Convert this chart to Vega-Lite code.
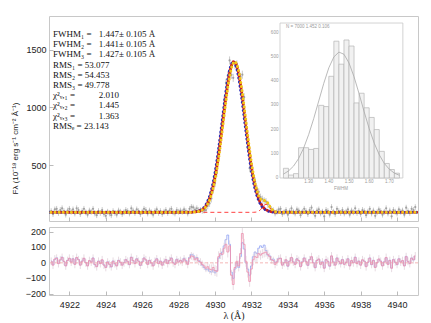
{
"$schema": "https://vega.github.io/schema/vega-lite/v6.json",
"background": "white",
"padding": {"left": 11, "top": 15, "right": 14, "bottom": 4},
"spacing": 4,
"config": {
  "view": {"stroke": "#c8c8c8", "strokeWidth": 1},
  "axis": {"domain": false, "grid": false, "labelFont": "Liberation Sans", "labelFontSize": 9, "labelColor": "#222", "tickColor": "#aaa", "tickWidth": 0.8, "titleFont": "Liberation Sans", "titleFontWeight": "normal", "titleColor": "#222"}
},
"datasets": {
"spec": [
{"w":4921.0,"f":105,"e":25,"a":10,"b":12},{"w":4921.1,"f":80,"e":25,"a":-15,"b":-12},{"w":4921.2,"f":120,"e":25,"a":25,"b":22},{"w":4921.3,"f":125,"e":25,"a":30,"b":33},{"w":4921.4,"f":90,"e":25,"a":-5,"b":-3},{"w":4921.5,"f":115,"e":25,"a":20,"b":18},{"w":4921.6,"f":130,"e":25,"a":35,"b":37},{"w":4921.7,"f":105,"e":25,"a":10,"b":8},{"w":4921.8,"f":75,"e":25,"a":-20,"b":-18},{"w":4921.9,"f":110,"e":25,"a":15,"b":17},
{"w":4922.0,"f":125,"e":25,"a":30,"b":28},{"w":4922.1,"f":100,"e":25,"a":5,"b":7},{"w":4922.2,"f":120,"e":25,"a":25,"b":27},{"w":4922.3,"f":85,"e":25,"a":-10,"b":-8},{"w":4922.4,"f":130,"e":25,"a":35,"b":33},{"w":4922.5,"f":115,"e":25,"a":20,"b":22},{"w":4922.6,"f":80,"e":25,"a":-15,"b":-13},{"w":4922.7,"f":105,"e":25,"a":10,"b":12},{"w":4922.8,"f":125,"e":25,"a":30,"b":28},{"w":4922.9,"f":95,"e":25,"a":0,"b":2},
{"w":4923.0,"f":75,"e":25,"a":-20,"b":-18},{"w":4923.1,"f":110,"e":25,"a":15,"b":13},{"w":4923.2,"f":100,"e":25,"a":5,"b":7},{"w":4923.3,"f":125,"e":25,"a":30,"b":32},{"w":4923.4,"f":85,"e":25,"a":-10,"b":-12},{"w":4923.5,"f":70,"e":25,"a":-25,"b":-23},{"w":4923.6,"f":105,"e":25,"a":10,"b":12},{"w":4923.7,"f":90,"e":25,"a":-5,"b":-3},{"w":4923.8,"f":115,"e":25,"a":20,"b":18},{"w":4923.9,"f":80,"e":25,"a":-15,"b":-13},
{"w":4924.0,"f":65,"e":25,"a":-30,"b":-28},{"w":4924.1,"f":100,"e":25,"a":5,"b":7},{"w":4924.2,"f":85,"e":25,"a":-10,"b":-8},{"w":4924.3,"f":70,"e":25,"a":-25,"b":-27},{"w":4924.4,"f":105,"e":25,"a":10,"b":12},{"w":4924.5,"f":90,"e":25,"a":-5,"b":-7},{"w":4924.6,"f":75,"e":25,"a":-20,"b":-18},{"w":4924.7,"f":110,"e":25,"a":15,"b":17},{"w":4924.8,"f":100,"e":25,"a":5,"b":3},{"w":4924.9,"f":80,"e":25,"a":-15,"b":-13},
{"w":4925.0,"f":95,"e":25,"a":0,"b":2},{"w":4925.1,"f":115,"e":25,"a":20,"b":22},{"w":4925.2,"f":105,"e":25,"a":10,"b":8},{"w":4925.3,"f":85,"e":25,"a":-10,"b":-12},{"w":4925.4,"f":130,"e":25,"a":35,"b":37},{"w":4925.5,"f":110,"e":25,"a":15,"b":13},{"w":4925.6,"f":90,"e":25,"a":-5,"b":-3},{"w":4925.7,"f":120,"e":25,"a":25,"b":27},{"w":4925.8,"f":105,"e":25,"a":10,"b":12},{"w":4925.9,"f":80,"e":25,"a":-15,"b":-17},
{"w":4926.0,"f":100,"e":25,"a":5,"b":7},{"w":4926.1,"f":125,"e":25,"a":30,"b":32},{"w":4926.2,"f":115,"e":25,"a":20,"b":18},{"w":4926.3,"f":85,"e":25,"a":-10,"b":-8},{"w":4926.4,"f":110,"e":25,"a":15,"b":17},{"w":4926.5,"f":95,"e":25,"a":0,"b":-2},{"w":4926.6,"f":75,"e":25,"a":-20,"b":-18},{"w":4926.7,"f":105,"e":25,"a":10,"b":12},{"w":4926.8,"f":120,"e":25,"a":25,"b":27},{"w":4926.9,"f":90,"e":25,"a":-5,"b":-3},
{"w":4927.0,"f":105,"e":25,"a":10,"b":12},{"w":4927.1,"f":80,"e":25,"a":-15,"b":-13},{"w":4927.2,"f":100,"e":25,"a":5,"b":7},{"w":4927.3,"f":115,"e":25,"a":20,"b":22},{"w":4927.4,"f":90,"e":25,"a":-5,"b":-3},{"w":4927.5,"f":110,"e":25,"a":15,"b":17},{"w":4927.6,"f":125,"e":25,"a":30,"b":32},{"w":4927.7,"f":95,"e":25,"a":0,"b":3},{"w":4927.8,"f":85,"e":25,"a":-10,"b":-7},{"w":4927.9,"f":115,"e":25,"a":20,"b":24},
{"w":4928.0,"f":100,"e":25,"a":5,"b":7},{"w":4928.1,"f":110,"e":25,"a":15,"b":17},{"w":4928.2,"f":100,"e":25,"a":5,"b":10},{"w":4928.3,"f":120,"e":25,"a":25,"b":30},{"w":4928.4,"f":105,"e":25,"a":10,"b":15},{"w":4928.5,"f":85,"e":25,"a":-10,"b":-5},{"w":4928.6,"f":125,"e":25,"a":30,"b":35},{"w":4928.7,"f":141,"e":25,"a":45,"b":55},{"w":4928.8,"f":137,"e":25,"a":40,"b":50},{"w":4928.9,"f":118,"e":25,"a":20,"b":30},
{"w":4929.0,"f":130,"e":25,"a":30,"b":35},{"w":4929.1,"f":114,"e":25,"a":10,"b":15},{"w":4929.2,"f":114,"e":25,"a":5,"b":5},{"w":4929.3,"f":108,"e":25,"a":-10,"b":-15},{"w":4929.4,"f":110,"e":25,"a":-20,"b":-30},{"w":4929.5,"f":114,"e":25,"a":-35,"b":-45},{"w":4929.6,"f":151,"e":30,"a":-25,"b":-40},{"w":4929.7,"f":172,"e":30,"a":-40,"b":-55},{"w":4929.8,"f":215,"e":35,"a":-45,"b":-60},{"w":4929.9,"f":292,"e":35,"a":-30,"b":-45},
{"w":4930.0,"f":348,"e":35,"a":-50,"b":-65},{"w":4930.1,"f":435,"e":35,"a":-55,"b":-50},{"w":4930.2,"f":636,"e":35,"a":40,"b":30},{"w":4930.3,"f":775,"e":35,"a":60,"b":50},{"w":4930.4,"f":896,"e":35,"a":55,"b":70},{"w":4930.5,"f":1064,"e":35,"a":95,"b":110},{"w":4930.6,"f":1213,"e":35,"a":120,"b":150},{"w":4930.7,"f":1275,"e":35,"a":70,"b":180},{"w":4930.8,"f":1406,"e":35,"a":110,"b":120},{"w":4930.9,"f":1282,"e":35,"a":-80,"b":-60},
{"w":4931.0,"f":1256,"e":35,"a":-140,"b":-100},{"w":4931.1,"f":1366,"e":35,"a":-30,"b":-40},{"w":4931.2,"f":1372,"e":35,"a":10,"b":0},{"w":4931.3,"f":1276,"e":35,"a":-20,"b":-30},{"w":4931.4,"f":1265,"e":35,"a":60,"b":40},{"w":4931.5,"f":1283,"e":35,"a":190,"b":130},{"w":4931.6,"f":1089,"e":35,"a":120,"b":90},{"w":4931.7,"f":851,"e":35,"a":10,"b":0},{"w":4931.8,"f":655,"e":35,"a":-60,"b":-40},{"w":4931.9,"f":476,"e":35,"a":-120,"b":-80},
{"w":4932.0,"f":450,"e":35,"a":-40,"b":-20},{"w":4932.1,"f":418,"e":35,"a":20,"b":40},{"w":4932.2,"f":362,"e":35,"a":40,"b":70},{"w":4932.3,"f":295,"e":35,"a":35,"b":60},{"w":4932.4,"f":272,"e":30,"a":60,"b":95},{"w":4932.5,"f":226,"e":30,"a":50,"b":110},{"w":4932.6,"f":209,"e":30,"a":60,"b":100},{"w":4932.7,"f":195,"e":30,"a":65,"b":115},{"w":4932.8,"f":188,"e":30,"a":70,"b":80},{"w":4932.9,"f":164,"e":30,"a":55,"b":50},
{"w":4933.0,"f":144,"e":25,"a":40,"b":45},{"w":4933.1,"f":121,"e":25,"a":20,"b":20},{"w":4933.2,"f":113,"e":25,"a":15,"b":25},{"w":4933.3,"f":85,"e":25,"a":-10,"b":0},{"w":4933.4,"f":100,"e":25,"a":5,"b":10},{"w":4933.5,"f":120,"e":25,"a":25,"b":30},{"w":4933.6,"f":125,"e":25,"a":30,"b":28},{"w":4933.7,"f":80,"e":25,"a":-15,"b":-13},{"w":4933.8,"f":95,"e":25,"a":0,"b":2},{"w":4933.9,"f":115,"e":25,"a":20,"b":18},
{"w":4934.0,"f":75,"e":25,"a":-20,"b":-22},{"w":4934.1,"f":105,"e":25,"a":10,"b":12},{"w":4934.2,"f":130,"e":25,"a":35,"b":33},{"w":4934.3,"f":100,"e":25,"a":5,"b":7},{"w":4934.4,"f":85,"e":25,"a":-10,"b":-8},{"w":4934.5,"f":120,"e":25,"a":25,"b":27},{"w":4934.6,"f":110,"e":25,"a":15,"b":13},{"w":4934.7,"f":70,"e":25,"a":-25,"b":-23},{"w":4934.8,"f":100,"e":25,"a":5,"b":7},{"w":4934.9,"f":125,"e":25,"a":30,"b":32},
{"w":4935.0,"f":105,"e":25,"a":10,"b":8},{"w":4935.1,"f":80,"e":25,"a":-15,"b":-17},{"w":4935.2,"f":115,"e":25,"a":20,"b":22},{"w":4935.3,"f":135,"e":25,"a":40,"b":38},{"w":4935.4,"f":95,"e":25,"a":0,"b":2},{"w":4935.5,"f":65,"e":25,"a":-30,"b":-32},{"w":4935.6,"f":110,"e":25,"a":15,"b":17},{"w":4935.7,"f":120,"e":25,"a":25,"b":23},{"w":4935.8,"f":85,"e":25,"a":-10,"b":-8},{"w":4935.9,"f":100,"e":25,"a":5,"b":7},
{"w":4936.0,"f":60,"e":25,"a":-35,"b":-33},{"w":4936.1,"f":115,"e":25,"a":20,"b":22},{"w":4936.2,"f":105,"e":25,"a":10,"b":8},{"w":4936.3,"f":75,"e":25,"a":-20,"b":-22},{"w":4936.4,"f":140,"e":25,"a":45,"b":43},{"w":4936.5,"f":100,"e":25,"a":5,"b":7},{"w":4936.6,"f":80,"e":25,"a":-15,"b":-13},{"w":4936.7,"f":125,"e":25,"a":30,"b":32},{"w":4936.8,"f":105,"e":25,"a":10,"b":8},{"w":4936.9,"f":90,"e":25,"a":-5,"b":-7},
{"w":4937.0,"f":115,"e":25,"a":20,"b":22},{"w":4937.1,"f":85,"e":25,"a":-10,"b":-8},{"w":4937.2,"f":100,"e":25,"a":5,"b":3},{"w":4937.3,"f":120,"e":25,"a":25,"b":27},{"w":4937.4,"f":75,"e":25,"a":-20,"b":-18},{"w":4937.5,"f":110,"e":25,"a":15,"b":13},{"w":4937.6,"f":95,"e":25,"a":0,"b":2},{"w":4937.7,"f":130,"e":25,"a":35,"b":37},{"w":4937.8,"f":90,"e":25,"a":-5,"b":-3},{"w":4937.9,"f":105,"e":25,"a":10,"b":12},
{"w":4938.0,"f":80,"e":25,"a":-15,"b":-13},{"w":4938.1,"f":115,"e":25,"a":20,"b":18},{"w":4938.2,"f":105,"e":25,"a":10,"b":12},{"w":4938.3,"f":70,"e":25,"a":-25,"b":-23},{"w":4938.4,"f":100,"e":25,"a":5,"b":3},{"w":4938.5,"f":125,"e":25,"a":30,"b":32},{"w":4938.6,"f":85,"e":25,"a":-10,"b":-12},{"w":4938.7,"f":110,"e":25,"a":15,"b":17},{"w":4938.8,"f":65,"e":25,"a":-30,"b":-28},{"w":4938.9,"f":95,"e":25,"a":0,"b":2},
{"w":4939.0,"f":120,"e":25,"a":25,"b":23},{"w":4939.1,"f":105,"e":25,"a":10,"b":12},{"w":4939.2,"f":75,"e":25,"a":-20,"b":-18},{"w":4939.3,"f":100,"e":25,"a":5,"b":7},{"w":4939.4,"f":130,"e":25,"a":35,"b":33},{"w":4939.5,"f":85,"e":25,"a":-10,"b":-8},{"w":4939.6,"f":110,"e":25,"a":15,"b":17},{"w":4939.7,"f":60,"e":25,"a":-35,"b":-33},{"w":4939.8,"f":115,"e":25,"a":20,"b":22},{"w":4939.9,"f":100,"e":25,"a":5,"b":3},
{"w":4940.0,"f":85,"e":25,"a":-10,"b":-12},{"w":4940.1,"f":120,"e":25,"a":25,"b":27},{"w":4940.2,"f":100,"e":25,"a":5,"b":7},{"w":4940.3,"f":110,"e":25,"a":15,"b":13},{"w":4940.4,"f":75,"e":25,"a":-20,"b":-18},{"w":4940.5,"f":135,"e":25,"a":40,"b":42},{"w":4940.6,"f":105,"e":25,"a":10,"b":8},{"w":4940.7,"f":90,"e":25,"a":-5,"b":-3},{"w":4940.8,"f":125,"e":25,"a":30,"b":32},{"w":4940.9,"f":115,"e":25,"a":20,"b":18},
{"w":4941.0,"f":140,"e":25,"a":45,"b":43}
],
"model": [
{"w":4920.9,"m1":95,"m2":95,"m3":95},{"w":4928.2,"m1":95,"m2":95,"m3":95},{"w":4928.7,"m1":96,"m2":96.4,"m3":96},{"w":4928.9,"m1":98,"m2":99,"m3":97.5},{"w":4929.1,"m1":103.5,"m2":105.7,"m3":102},
{"w":4929.2,"m1":109,"m2":112.6,"m3":107.4},{"w":4929.3,"m1":118,"m2":122.8,"m3":115.3},{"w":4929.4,"m1":130,"m2":137.6,"m3":126.4},{"w":4929.5,"m1":149,"m2":159.8,"m3":143.3},{"w":4929.6,"m1":176,"m2":190.4,"m3":167.9},
{"w":4929.7,"m1":212,"m2":231.2,"m3":201.2},{"w":4929.8,"m1":260,"m2":284.8,"m3":245.6},{"w":4929.9,"m1":322,"m2":352.4,"m3":303.4},{"w":4930.0,"m1":398,"m2":434.8,"m3":375.2},{"w":4930.1,"m1":490,"m2":532.4,"m3":462.4},
{"w":4930.2,"m1":596,"m2":643.6,"m3":564.2},{"w":4930.3,"m1":715,"m2":765.4,"m3":679.3},{"w":4930.4,"m1":841,"m2":892.2,"m3":803.2},{"w":4930.5,"m1":969,"m2":1018.6,"m3":930.6},{"w":4930.6,"m1":1093,"m2":1137.8,"m3":1055.8},
{"w":4930.7,"m1":1205,"m2":1241.4,"m3":1171.4},{"w":4930.8,"m1":1296,"m2":1322.4,"m3":1268.7},{"w":4930.9,"m1":1362,"m2":1375.6,"m3":1342.2},{"w":4931.0,"m1":1396,"m2":1399,"m3":1385.8},{"w":4931.1,"m1":1396,"m2":1382.4,"m3":1397},
{"w":4931.2,"m1":1362,"m2":1335.6,"m3":1372.2},{"w":4931.3,"m1":1296,"m2":1259.6,"m3":1315.8},{"w":4931.4,"m1":1205,"m2":1160.2,"m3":1232.3},{"w":4931.5,"m1":1093,"m2":1043.4,"m3":1126.6},{"w":4931.6,"m1":969,"m2":917.8,"m3":1006.2},
{"w":4931.7,"m1":841,"m2":790.6,"m3":879.4},{"w":4931.8,"m1":715,"m2":667.4,"m3":752.8},{"w":4931.9,"m1":596,"m2":553.6,"m3":631.7},{"w":4932.0,"m1":490,"m2":453.2,"m3":521.8},{"w":4932.1,"m1":398,"m2":367.6,"m3":425.6},
{"w":4932.2,"m1":322,"m2":297.2,"m3":346},{"w":4932.3,"m1":260,"m2":240.8,"m3":282},{"w":4932.4,"m1":212,"m2":197.6,"m3":236},{"w":4932.5,"m1":176,"m2":165.2,"m3":210},{"w":4932.6,"m1":149,"m2":141.4,"m3":199},
{"w":4932.7,"m1":130,"m2":125.2,"m3":198},{"w":4932.8,"m1":118,"m2":114.4,"m3":192},{"w":4932.9,"m1":109,"m2":106.8,"m3":174},{"w":4933.0,"m1":103.5,"m2":101.6,"m3":147},{"w":4933.1,"m1":100,"m2":99,"m3":124},
{"w":4933.2,"m1":98,"m2":97.2,"m3":108.5},{"w":4933.3,"m1":97,"m2":96.5,"m3":100.5},{"w":4933.4,"m1":96,"m2":95.6,"m3":96.3},{"w":4933.9,"m1":95,"m2":95,"m3":95},{"w":4941.2,"m1":95,"m2":95,"m3":95}
],
"comp": [
{"w":4920.9,"c":95},{"w":4932.1,"c":95},{"w":4932.2,"c":96},{"w":4932.3,"c":98},{"w":4932.4,"c":104.5},{"w":4932.5,"c":118},{"w":4932.6,"c":137},{"w":4932.7,"c":157},{"w":4932.8,"c":165},{"w":4932.9,"c":157},{"w":4933.0,"c":137},{"w":4933.1,"c":118},{"w":4933.2,"c":104.5},{"w":4933.3,"c":98},{"w":4933.4,"c":96},{"w":4933.5,"c":95},{"w":4941.2,"c":95}
],
"zero": [{"z": 0}],
"rticks": [{"v": -200}, {"v": -100}, {"v": 0}, {"v": 100}, {"v": 200}],
"hist": [
{"b0":1.175,"b1":1.2,"n":40},{"b0":1.2,"b1":1.225,"n":12},{"b0":1.225,"b1":1.25,"n":18},{"b0":1.25,"b1":1.275,"n":125},{"b0":1.275,"b1":1.3,"n":125},{"b0":1.3,"b1":1.325,"n":118},{"b0":1.325,"b1":1.35,"n":122},{"b0":1.35,"b1":1.375,"n":300},{"b0":1.375,"b1":1.4,"n":295},{"b0":1.4,"b1":1.425,"n":420},{"b0":1.425,"b1":1.45,"n":565},{"b0":1.45,"b1":1.475,"n":470},{"b0":1.475,"b1":1.5,"n":570},{"b0":1.5,"b1":1.525,"n":545},{"b0":1.525,"b1":1.55,"n":310},{"b0":1.55,"b1":1.575,"n":350},{"b0":1.575,"b1":1.6,"n":290},{"b0":1.6,"b1":1.625,"n":250},{"b0":1.625,"b1":1.65,"n":200},{"b0":1.65,"b1":1.675,"n":110},{"b0":1.675,"b1":1.7,"n":60},{"b0":1.7,"b1":1.725,"n":35},{"b0":1.725,"b1":1.75,"n":20}
],
"gfit": [
{"x":1.175,"g":16},{"x":1.2,"g":29},{"x":1.225,"g":49},{"x":1.25,"g":80},{"x":1.275,"g":123},{"x":1.3,"g":179},{"x":1.325,"g":245},{"x":1.35,"g":318},{"x":1.375,"g":391},{"x":1.4,"g":455},{"x":1.425,"g":500},{"x":1.45,"g":520},{"x":1.475,"g":511},{"x":1.5,"g":475},{"x":1.525,"g":418},{"x":1.55,"g":348},{"x":1.575,"g":274},{"x":1.6,"g":204},{"x":1.625,"g":144},{"x":1.65,"g":96},{"x":1.675,"g":60},{"x":1.7,"g":36},{"x":1.725,"g":20},{"x":1.75,"g":11}
],
"notes": [
{"i":0,"k":"FWHM₁ =","v":"1.447± 0.105 Å"},
{"i":1,"k":"FWHM₂ =","v":"1.441± 0.105 Å"},
{"i":2,"k":"FWHM₃ =","v":"1.427± 0.105 Å"},
{"i":3,"k":"RMS₁ = 53.077","v":""},
{"i":4,"k":"RMS₂ = 54.453","v":""},
{"i":5,"k":"RMS₃ = 49.778","v":""},
{"i":6,"k":"χ²ᵥ,₁ =","v":"2.010"},
{"i":7,"k":"χ²ᵥ,₂ =","v":"1.445"},
{"i":8,"k":"χ²ᵥ,₃ =","v":"1.363"},
{"i":9,"k":"RMSₑ = 23.143","v":""}
]
},
"vconcat": [
{
  "width": 369, "height": 205,
  "layer": [
    {
      "layer": [
        {"data": {"name": "spec"},
         "mark": {"type": "errorbar", "ticks": false, "color": "#bdbdbd", "thickness": 0.8},
         "encoding": {
           "x": {"field": "w", "type": "quantitative", "scale": {"domain": [4920.88, 4941.15], "nice": false, "zero": false},
                 "axis": {"values": [4922,4924,4926,4928,4930,4932,4934,4936,4938,4940], "labels": false, "tickSize": -4, "title": null}},
           "y": {"field": "f", "type": "quantitative", "scale": {"domain": [20, 1790], "nice": false, "zero": false},
                 "axis": {"values": [500, 1000, 1500], "format": "d", "tickSize": -4, "labelPadding": 7, "title": "Fλ (10⁻¹⁸ erg s⁻¹ cm⁻² Å⁻¹)", "titleFontSize": 8, "titleY": 132, "titlePadding": 6}},
           "yError": {"field": "e"}
         }},
        {"data": {"name": "spec"},
         "mark": {"type": "point", "filled": true, "size": 5, "color": "#9a9a9a", "opacity": 0.9},
         "encoding": {"x": {"field": "w", "type": "quantitative"}, "y": {"field": "f", "type": "quantitative"}}},
        {"data": {"name": "comp"},
         "mark": {"type": "line", "color": "#ff4040", "strokeWidth": 1, "strokeDash": [4, 3], "clip": true},
         "encoding": {"x": {"field": "w", "type": "quantitative"}, "y": {"field": "c", "type": "quantitative"}}},
        {"data": {"name": "model"},
         "mark": {"type": "line", "color": "#2a2ab8", "strokeWidth": 3, "strokeDash": [0.1, 4], "strokeCap": "round", "clip": true},
         "encoding": {"x": {"field": "w", "type": "quantitative"}, "y": {"field": "m2", "type": "quantitative"}}},
        {"data": {"name": "model"},
         "mark": {"type": "line", "color": "#cc2020", "strokeWidth": 3, "strokeDash": [0.1, 4], "strokeDashOffset": 1.33, "strokeCap": "round", "clip": true},
         "encoding": {"x": {"field": "w", "type": "quantitative"}, "y": {"field": "m1", "type": "quantitative"}}},
        {"data": {"name": "model"},
         "mark": {"type": "line", "color": "#f2c418", "strokeWidth": 3, "strokeDash": [0.1, 4], "strokeDashOffset": 2.66, "strokeCap": "round", "clip": true},
         "encoding": {"x": {"field": "w", "type": "quantitative"}, "y": {"field": "m3", "type": "quantitative"}}}
      ]
    },
    {
      "layer": [
        {"data": {"values": [{}]},
         "mark": {"type": "rect", "fill": "white", "stroke": "#c8c8c8", "strokeWidth": 0.8},
         "encoding": {
           "x": {"datum": 1.158, "type": "quantitative", "scale": {"domain": [0.013, 1.842], "nice": false, "zero": false}, "axis": null},
           "x2": {"datum": 1.767},
           "y": {"datum": 0, "type": "quantitative", "scale": {"domain": [-177.6, 669], "nice": false, "zero": false}, "axis": null},
           "y2": {"datum": 640}}},
        {"data": {"name": "hist"},
         "mark": {"type": "rect", "fill": "#f1f1f1", "stroke": "#b4b4b4", "strokeWidth": 0.7},
         "encoding": {"x": {"field": "b0", "type": "quantitative", "axis": null}, "x2": {"field": "b1"}, "y": {"field": "n", "type": "quantitative", "axis": null}, "y2": {"datum": 0}}},
        {"data": {"name": "gfit"},
         "mark": {"type": "line", "color": "#a8a8a8", "strokeWidth": 0.8},
         "encoding": {"x": {"field": "x", "type": "quantitative", "axis": null}, "y": {"field": "g", "type": "quantitative", "axis": null}}},
        {"data": {"values": [{"v": 1.3}, {"v": 1.4}, {"v": 1.5}, {"v": 1.6}, {"v": 1.7}]},
         "mark": {"type": "text", "fontSize": 4.5, "color": "#9a9a9a", "baseline": "middle"},
         "encoding": {"x": {"field": "v", "type": "quantitative", "axis": null}, "y": {"datum": -17, "type": "quantitative", "axis": null}, "text": {"field": "v", "format": ".2f"}}},
        {"data": {"values": [{"v": 0}, {"v": 100}, {"v": 200}, {"v": 300}, {"v": 400}, {"v": 500}, {"v": 600}]},
         "mark": {"type": "text", "fontSize": 4.5, "color": "#9a9a9a", "baseline": "middle", "align": "right"},
         "encoding": {"x": {"datum": 1.15, "type": "quantitative", "axis": null}, "y": {"field": "v", "type": "quantitative", "axis": null}, "text": {"field": "v"}}},
        {"data": {"values": [{"t": "FWHM"}]},
         "mark": {"type": "text", "fontSize": 4.5, "color": "#9a9a9a", "baseline": "middle"},
         "encoding": {"x": {"datum": 1.46, "type": "quantitative", "axis": null}, "y": {"datum": -45, "type": "quantitative", "axis": null}, "text": {"field": "t"}}},
        {"data": {"values": [{"t": "N = 7000    1.452    0.106"}]},
         "mark": {"type": "text", "fontSize": 4.5, "color": "#9a9a9a", "baseline": "middle", "align": "left"},
         "encoding": {"x": {"datum": 1.188, "type": "quantitative", "axis": null}, "y": {"datum": 625, "type": "quantitative", "axis": null}, "text": {"field": "t"}}}
      ]
    },
    {
      "data": {"name": "notes"},
      "layer": [
        {"mark": {"type": "text", "align": "left", "baseline": "middle", "font": "Liberation Serif", "fontSize": 9, "color": "#111", "dx": 4},
         "encoding": {
           "x": {"datum": 0, "type": "quantitative", "scale": {"domain": [0, 1]}, "axis": null},
           "y": {"field": "i", "type": "quantitative", "scale": {"domain": [-1.765, 18.33], "reverse": true, "nice": false, "zero": false}, "axis": null},
           "text": {"field": "k"}}},
        {"mark": {"type": "text", "align": "left", "baseline": "middle", "font": "Liberation Serif", "fontSize": 9, "color": "#111"},
         "encoding": {
           "x": {"datum": 0.135, "type": "quantitative", "axis": null},
           "y": {"field": "i", "type": "quantitative", "axis": null},
           "text": {"field": "v"}}}
      ]
    }
  ],
  "resolve": {"scale": {"x": "independent", "y": "independent"}}
},
{
  "width": 369, "height": 68,
  "layer": [
    {"data": {"name": "spec"},
     "mark": {"type": "line", "interpolate": "step", "color": "#8fa0f2", "strokeWidth": 1, "opacity": 0.8},
     "encoding": {
       "x": {"field": "w", "type": "quantitative", "scale": {"domain": [4920.88, 4941.15], "nice": false, "zero": false},
             "axis": {"values": [4922,4924,4926,4928,4930,4932,4934,4936,4938,4940], "format": "d", "tickSize": -4, "labelPadding": 9, "title": "λ (Å)", "titleFont": "Liberation Serif", "titleFontSize": 10, "titlePadding": 1}},
       "y": {"field": "b", "type": "quantitative", "scale": {"domain": [-208, 232], "nice": false, "zero": false},
             "axis": {"values": [-200, -100, 0, 100, 200], "labels": false, "tickSize": -4, "title": null}}
     }},
    {"data": {"name": "rticks"},
     "mark": {"type": "text", "align": "right", "baseline": "middle", "font": "Liberation Sans", "fontSize": 9, "color": "#222", "dx": -3},
     "encoding": {"x": {"datum": 4920.88, "type": "quantitative"}, "y": {"field": "v", "type": "quantitative"}, "text": {"field": "v", "format": "d"}}},
    {"data": {"name": "spec"},
     "mark": {"type": "errorbar", "ticks": false, "color": "#dccbd6", "thickness": 0.7},
     "encoding": {"x": {"field": "w", "type": "quantitative"}, "y": {"field": "a", "type": "quantitative"}, "yError": {"field": "e"}}},
    {"data": {"name": "zero"},
     "mark": {"type": "rule", "color": "#f3a3a3", "strokeDash": [3, 2], "strokeWidth": 0.8},
     "encoding": {"y": {"field": "z", "type": "quantitative"}}},
    {"data": {"name": "spec"},
     "mark": {"type": "line", "interpolate": "step", "color": "#ee93b0", "strokeWidth": 1, "opacity": 0.85},
     "encoding": {"x": {"field": "w", "type": "quantitative"}, "y": {"field": "a", "type": "quantitative"}}}
  ]
}
]
}
